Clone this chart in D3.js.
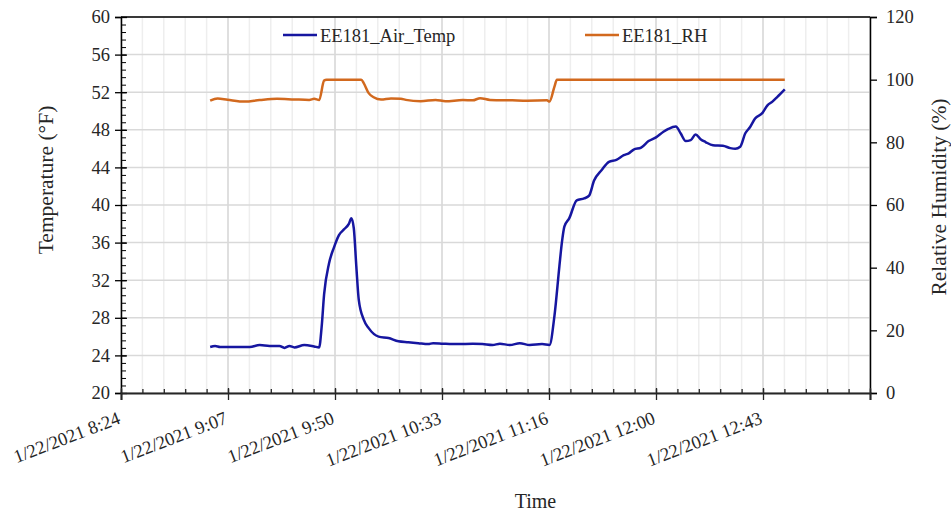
<!DOCTYPE html>
<html>
<head>
<meta charset="utf-8">
<script src="https://cdn.jsdelivr.net/npm/d3@7"></script>
<style>
  body { margin: 0; background: #fff; }
  svg text { font-family: "Liberation Serif", "Times New Roman", Times, "DejaVu Serif", serif !important; fill: #262626; }
</style>
</head>
<body>
<svg width="951" height="516"></svg>
<script>
// Air temperature (°F)
const tempTimes = ['9:00','9:02','9:04','9:10','9:16','9:20','9:24','9:28','9:30','9:32','9:34','9:38','9:42','9:44',
  '9:45','9:46','9:48','9:50','9:52','9:54','9:56','9:57','9:58','9:59','10:00','10:02','10:04','10:08','10:12','10:16',
  '10:20','10:24','10:28','10:30','10:34','10:40','10:46','10:50','10:54','10:57','11:01','11:05','11:09','11:14','11:17',
  '11:19','11:21','11:22','11:23','11:25','11:28','11:31','11:33','11:35','11:38','11:41','11:44','11:47','11:49','11:51',
  '11:54','11:57','12:00','12:03','12:05','12:08','12:10','12:12','12:14','12:16','12:18','12:20','12:23','12:27','12:30',
  '12:32','12:34','12:36','12:38','12:40','12:43','12:45','12:47','12:49','12:52'];
const tempValues = [24.9,25.0,24.9,24.9,24.9,25.1,25.0,25.0,24.8,25.0,24.85,25.1,24.95,24.85,
  27.0,30.5,33.8,35.5,36.8,37.4,38.0,38.6,37.5,33.5,29.9,27.8,26.9,26.0,25.85,25.5,
  25.4,25.3,25.2,25.3,25.25,25.2,25.25,25.2,25.1,25.25,25.1,25.3,25.1,25.2,25.1,
  28.2,33.5,36.0,37.7,38.6,40.5,40.7,41.0,42.6,43.7,44.6,44.8,45.3,45.5,45.9,
  46.1,46.8,47.2,47.8,48.1,48.35,47.6,46.8,46.9,47.5,47.0,46.7,46.35,46.3,46.05,
  45.98,46.2,47.6,48.3,49.2,49.8,50.6,51.0,51.5,52.3];

// Relative humidity (%)
const rhTimes = ['9:00','9:03','9:07','9:14','9:20','9:27','9:34','9:40','9:42','9:44','9:46','9:47','10:01','10:02',
  '10:04','10:06','10:09','10:13','10:17','10:19','10:25','10:31','10:35','10:42','10:46','10:49','10:53','11:02',
  '11:08','11:16','11:17','11:19','11:20','12:52'];
const rhValues = [93.3,94.0,93.6,93.0,93.5,93.9,93.7,93.55,93.9,93.5,99.7,100,100,98.9,
  95.7,94.4,93.65,94.0,93.9,93.55,93.1,93.55,93.1,93.5,93.4,94.1,93.55,93.4,
  93.3,93.4,93.0,97.8,100,100];

const xTickLabels = ['1/22/2021 8:24','1/22/2021 9:07','1/22/2021 9:50','1/22/2021 10:33',
  '1/22/2021 11:16','1/22/2021 12:00','1/22/2021 12:43'];
const tempTicks = [20, 24, 28, 32, 36, 40, 44, 48, 52, 56, 60];
const rhTicks = [0, 20, 40, 60, 80, 100, 120];
const seriesNames = ['EE181_Air_Temp', 'EE181_RH'];

const svg = d3.select('svg');
const width = +svg.attr('width');
const height = +svg.attr('height');
const margin = {top: 17, right: 81, bottom: 123, left: 121};
const innerWidth = width - margin.left - margin.right;
const innerHeight = height - margin.top - margin.bottom;
const serif = '"Liberation Serif", "Times New Roman", Times, "DejaVu Serif", serif';

const parseTime = s => d3.timeParse('%m/%d/%Y %H:%M')('01/22/2021 ' + s);
const parseLabel = d3.timeParse('%m/%d/%Y %H:%M');

const start = parseLabel('01/22/2021 08:24');
const majorMs = 43.2 * 60000;   // 0.03 day
const minorMs = majorMs / 5;
const end = new Date(+start + 7 * majorMs);

const xScale = d3.scaleTime().domain([start, end]).range([0, innerWidth]);
const yScale = d3.scaleLinear().domain([20, 60]).range([innerHeight, 0]);
const y2Scale = d3.scaleLinear().domain([0, 120]).range([innerHeight, 0]);

const majorTimes = d3.range(0, 8).map(i => new Date(+start + i * majorMs));
const minorTimes = d3.range(0, 36).map(i => new Date(+start + i * minorMs));
const minorTemp = d3.range(0, 51).map(i => 20 + i * 0.8);

const g = svg.append('g')
  .attr('transform', `translate(${margin.left}, ${margin.top})`);

// gridlines
g.selectAll('.vminor').data(minorTimes).enter().append('line')
  .attr('x1', d => xScale(d)).attr('x2', d => xScale(d))
  .attr('y1', 0).attr('y2', innerHeight)
  .attr('stroke', '#eeeeee').attr('stroke-width', 1.5);
g.selectAll('.vmajor').data(majorTimes).enter().append('line')
  .attr('x1', d => xScale(d)).attr('x2', d => xScale(d))
  .attr('y1', 0).attr('y2', innerHeight)
  .attr('stroke', '#d9d9d9').attr('stroke-width', 1.5);
g.selectAll('.hmajor').data(tempTicks).enter().append('line')
  .attr('x1', 0).attr('x2', innerWidth)
  .attr('y1', d => yScale(d)).attr('y2', d => yScale(d))
  .attr('stroke', '#d9d9d9').attr('stroke-width', 1.5);

// top border
g.append('line').attr('x1', 0).attr('x2', innerWidth).attr('y1', 0).attr('y2', 0)
  .attr('stroke', '#000').attr('stroke-width', 1.3);

// lines
const tempData = tempTimes.map((t, i) => ({t: parseTime(t), v: tempValues[i]}));
const rhData = rhTimes.map((t, i) => ({t: parseTime(t), v: rhValues[i]}));

g.append('path').datum(rhData)
  .attr('fill', 'none').attr('stroke', '#d2691e').attr('stroke-width', 2.5)
  .attr('d', d3.line().x(d => xScale(d.t)).y(d => y2Scale(d.v)).curve(d3.curveMonotoneX));
g.append('path').datum(tempData)
  .attr('fill', 'none').attr('stroke', '#1616a0').attr('stroke-width', 2.5)
  .attr('d', d3.line().x(d => xScale(d.t)).y(d => yScale(d.v)).curve(d3.curveMonotoneX));

// left axis
g.append('g').call(d3.axisRight(yScale).tickValues(minorTemp).tickSize(5).tickFormat(''))
  .call(a => a.select('.domain').remove())
  .selectAll('line').attr('stroke', '#000');
const yAxisG = g.append('g').call(d3.axisLeft(yScale).tickValues(tempTicks).tickSize(6).tickPadding(5));
yAxisG.attr('font-family', serif);
yAxisG.select('.domain').attr('stroke', '#000').attr('stroke-width', 1.5);
yAxisG.selectAll('.tick line').clone().attr('x2', 6);
yAxisG.selectAll('line').attr('stroke', '#000').attr('stroke-width', 1.3);
yAxisG.selectAll('text').attr('font-size', 18.5).attr('fill', '#262626');

// right axis
const y2AxisG = g.append('g').attr('transform', `translate(${innerWidth},0)`)
  .call(d3.axisRight(y2Scale).tickValues(rhTicks).tickSize(7).tickPadding(9));
y2AxisG.attr('font-family', serif);
y2AxisG.select('.domain').attr('stroke', '#000').attr('stroke-width', 1.5);
y2AxisG.selectAll('line').attr('stroke', '#000').attr('stroke-width', 1.3);
y2AxisG.selectAll('text').attr('font-size', 18.5).attr('fill', '#262626');

// bottom axis
g.append('g').attr('transform', `translate(0,${innerHeight})`)
  .call(d3.axisTop(xScale).tickValues(minorTimes).tickSize(4).tickFormat(''))
  .call(a => a.select('.domain').remove())
  .selectAll('line').attr('stroke', '#262626').attr('stroke-width', 1.3);
const xAxisG = g.append('g').attr('transform', `translate(0,${innerHeight})`)
  .call(d3.axisBottom(xScale).tickValues(majorTimes).tickSize(7)
    .tickFormat((d, i) => xTickLabels[i] || ''));
xAxisG.attr('font-family', serif);
xAxisG.select('.domain').attr('stroke', '#262626').attr('stroke-width', 2);
xAxisG.selectAll('.tick line').clone().attr('y2', -5);
xAxisG.selectAll('line').attr('stroke', '#262626').attr('stroke-width', 1.3);
xAxisG.selectAll('text')
  .attr('font-size', 18.5).attr('fill', '#262626')
  .attr('text-anchor', 'end').attr('y', 0).attr('dy', 0)
  .attr('transform', 'translate(0,30) rotate(-21)');

// axis titles
svg.append('text').text('Time')
  .attr('x', margin.left + innerWidth / 2 + 40).attr('y', 508)
  .attr('text-anchor', 'middle').attr('font-size', 20);
svg.append('text').text('Temperature (°F)')
  .attr('transform', 'translate(53, 180) rotate(-90)')
  .attr('text-anchor', 'middle').attr('font-size', 21.5);
svg.append('text').text('Relative Humidity (%)')
  .attr('transform', 'translate(946, 197) rotate(-90)')
  .attr('text-anchor', 'middle').attr('font-size', 21.5);

// legend
const legend = svg.append('g');
const legendX = [283, 585];
const legendColors = ['#1616a0', '#d2691e'];
seriesNames.forEach((name, i) => {
  legend.append('line').attr('x1', legendX[i]).attr('x2', legendX[i] + 34)
    .attr('y1', 35).attr('y2', 35)
    .attr('stroke', legendColors[i]).attr('stroke-width', 2.5);
  legend.append('text').text(name)
    .attr('x', legendX[i] + 37).attr('y', 41.5).attr('font-size', 18.5);
});
</script>
</body>
</html>
